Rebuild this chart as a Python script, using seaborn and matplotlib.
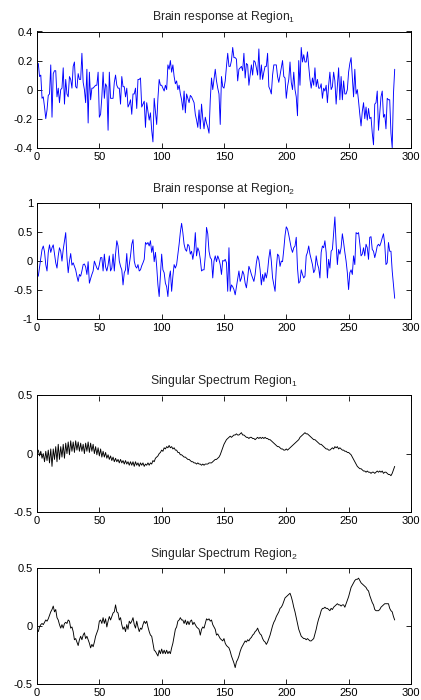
import matplotlib
matplotlib.use("Agg")

import numpy as np
import pandas as pd
import matplotlib.pyplot as plt
import seaborn as sns
from matplotlib.ticker import FuncFormatter

sns.set_theme(style="ticks")
plt.rcParams["font.family"] = ["Liberation Sans", "DejaVu Sans"]
plt.rcParams["mathtext.default"] = "regular"
plt.rcParams["axes.unicode_minus"] = False

# brain response, region 1
region1 = [
    0.18, 0.09, 0.10, -0.06, -0.05, -0.12, -0.20, -0.14, -0.04, -0.03,
    0.17, -0.19, 0.11, 0.13, 0.13, -0.05, 0.01, -0.09, 0.00, 0.01,
    0.15, -0.10, 0.07, -0.03, -0.05, 0.09, 0.07, 0.01, 0.16, 0.19,
    0.02, 0.01, 0.11, 0.07, 0.07, 0.25, 0.05, 0.00, -0.09, 0.14,
    -0.23, 0.12, -0.07, 0.01, 0.01, 0.02, 0.03, 0.03, 0.12, -0.19,
    -0.17, -0.05, 0.12, -0.06, 0.04, 0.02, -0.28, 0.12, -0.06, -0.06,
    -0.06, 0.05, 0.10, 0.03, 0.01, 0.01, -0.10, 0.09, 0.02, 0.02,
    -0.05, 0.01, -0.12, -0.10, -0.07, -0.17, -0.03, -0.03, 0.01, -0.13,
    0.07, 0.07, 0.08, -0.12, -0.10, -0.08, -0.26, -0.09, -0.15, -0.21,
    -0.16, -0.28, -0.36, -0.06, -0.15, -0.24, -0.06, 0.07, 0.03, 0.03,
    0.01, -0.01, 0.03, 0.00, 0.17, 0.14, 0.20, 0.12, 0.17, 0.09,
    0.04, 0.06, 0.00, 0.03, -0.03, -0.07, -0.14, -0.01, -0.16, -0.03,
    -0.06, -0.09, -0.04, -0.05, -0.07, -0.09, -0.17, -0.21, -0.26, -0.14,
    -0.27, -0.10, -0.20, -0.27, -0.19, -0.23, -0.26, -0.30, -0.07, 0.08,
    0.00, 0.07, 0.14, 0.06, 0.01, -0.03, -0.24, 0.09, 0.02, 0.01,
    0.06, 0.16, 0.25, 0.16, 0.16, 0.20, 0.29, 0.22, 0.22, 0.21,
    0.06, 0.14, 0.15, 0.16, 0.13, 0.25, 0.08, 0.18, 0.17, 0.03,
    0.10, 0.17, 0.10, 0.20, 0.19, 0.15, 0.10, 0.28, 0.07, 0.17,
    0.07, 0.12, 0.16, 0.16, 0.25, 0.02, 0.00, -0.03, 0.10, 0.17,
    0.17, 0.17, 0.09, 0.05, 0.10, 0.15, 0.20, 0.09, 0.08, -0.06,
    0.02, 0.07, 0.19, 0.05, 0.00, 0.12, 0.00, -0.05, -0.18, 0.20,
    0.03, 0.29, 0.19, 0.24, 0.19, 0.19, 0.26, 0.16, 0.07, 0.01,
    0.08, 0.03, 0.15, 0.02, 0.07, 0.01, 0.01, 0.04, -0.06, 0.01,
    -0.01, 0.03, -0.09, 0.03, 0.12, 0.00, 0.02, 0.12, 0.06, -0.10,
    0.02, 0.15, -0.07, 0.09, -0.07, 0.06, -0.03, -0.03, 0.00, 0.12,
    0.18, 0.22, 0.09, -0.05, 0.14, -0.03, 0.00, -0.08, -0.17, -0.25,
    -0.15, -0.09, -0.20, -0.12, -0.21, -0.13, -0.20, -0.19, -0.30, -0.38,
    -0.10, -0.09, -0.01, -0.28, -0.16, -0.05, -0.01, -0.19, -0.17, -0.27,
    -0.06, -0.07, -0.07, -0.30, -0.40, -0.03, 0.14,
]

# brain response, region 2
region2 = [
    -0.26, -0.10, 0.05, 0.20, 0.26, 0.16, -0.06, -0.17, 0.15, 0.28,
    0.15, 0.23, 0.28, 0.12, -0.03, -0.12, 0.09, 0.23, 0.17, 0.00,
    0.20, 0.35, 0.49, 0.06, -0.20, 0.00, 0.13, -0.07, -0.03, -0.09,
    -0.15, -0.26, -0.35, -0.23, -0.26, -0.17, -0.06, -0.05, -0.10, -0.23,
    -0.01, -0.38, -0.30, -0.23, -0.17, 0.00, -0.06, -0.12, -0.15, -0.06,
    0.06, 0.06, -0.17, 0.12, -0.10, -0.17, -0.07, 0.09, -0.17, -0.12,
    0.12, -0.17, 0.12, 0.35, 0.26, 0.00, -0.09, -0.15, -0.41, -0.20,
    -0.15, 0.13, -0.23, -0.06, 0.09, 0.29, 0.37, 0.00, -0.09, -0.12,
    -0.06, -0.17, -0.15, -0.08, -0.03, 0.03, 0.32, 0.29, 0.32, 0.26,
    0.35, 0.15, 0.26, -0.01, 0.15, -0.09, -0.41, -0.61, -0.26, 0.12,
    -0.15, -0.20, -0.38, -0.44, -0.61, -0.29, -0.17, -0.52, -0.26, -0.06,
    -0.12, -0.06, 0.12, 0.29, 0.50, 0.65, 0.49, 0.29, 0.20, 0.17,
    0.29, 0.26, 0.12, 0.17, 0.03, 0.17, 0.49, 0.09, 0.23, 0.17,
    0.03, -0.17, -0.15, -0.15, 0.09, 0.58, 0.47, 0.17, 0.06, 0.03,
    -0.29, 0.00, 0.09, -0.01, 0.09, 0.03, -0.06, -0.23, 0.01, 0.00,
    0.03, -0.03, -0.52, 0.23, -0.52, -0.41, -0.44, -0.49, -0.58, -0.44,
    -0.30, -0.17, -0.35, -0.29, -0.17, -0.23, -0.38, -0.46, -0.29, -0.09,
    -0.15, -0.23, -0.29, -0.35, -0.23, -0.03, 0.09, 0.02, -0.15, -0.41,
    -0.23, -0.35, -0.20, -0.29, -0.17, 0.05, 0.20, 0.00, -0.29, -0.41,
    -0.52, -0.12, 0.12, 0.09, -0.09, 0.00, -0.01, 0.20, 0.44, 0.59,
    0.55, 0.45, 0.33, 0.22, 0.15, 0.23, 0.26, 0.41, -0.12, -0.38,
    -0.35, -0.15, -0.23, -0.29, -0.26, 0.09, 0.15, 0.26, 0.12, 0.03,
    -0.06, -0.20, -0.15, 0.09, -0.05, -0.12, -0.29, 0.15, 0.26, 0.23,
    0.35, 0.15, -0.29, 0.03, -0.12, 0.17, 0.20, 0.49, 0.76, 0.29,
    -0.06, 0.20, 0.12, 0.23, 0.47, 0.32, 0.15, 0.00, -0.20, -0.49,
    -0.20, -0.15, -0.23, 0.09, -0.06, 0.49, 0.47, 0.49, 0.30, 0.09,
    0.12, 0.23, 0.09, 0.29, 0.23, 0.03, 0.41, 0.42, 0.20, 0.17,
    0.06, 0.15, 0.26, 0.29, 0.26, 0.32, 0.40, 0.47, 0.29, -0.06,
    -0.03, 0.32, 0.17, 0.17, -0.17, -0.40, -0.64,
]

# singular spectrum reconstruction, region 1
ssa1 = [
    0.03, -0.02, 0.02, -0.04, 0.00, -0.07, 0.02, -0.06, 0.03, -0.08,
    0.04, -0.11, 0.04, -0.05, 0.06, -0.07, 0.08, -0.05, 0.06, -0.03,
    0.08, -0.04, 0.09, 0.00, 0.10, -0.01, 0.11, 0.02, 0.10, 0.01,
    0.11, 0.03, 0.10, 0.02, 0.09, 0.02, 0.08, 0.00, 0.09, 0.02,
    0.10, 0.01, 0.09, 0.02, 0.08, 0.00, 0.06, -0.01, 0.05, -0.02,
    0.04, -0.03, 0.02, -0.03, 0.01, -0.04, -0.01, -0.05, -0.02, -0.06,
    -0.03, -0.07, -0.04, -0.07, -0.05, -0.08, -0.05, -0.08, -0.06, -0.09,
    -0.06, -0.09, -0.07, -0.10, -0.07, -0.10, -0.07, -0.11, -0.07, -0.10,
    -0.08, -0.11, -0.08, -0.10, -0.08, -0.11, -0.09, -0.10, -0.08, -0.10,
    -0.08, -0.09, -0.06, -0.07, -0.04, -0.03, -0.02, 0.00, 0.01, 0.03,
    0.02, 0.05, 0.04, 0.06, 0.05, 0.07, 0.05, 0.06, 0.04, 0.05,
    0.03, 0.03, 0.01, 0.01, -0.01, -0.01, -0.02, -0.03, -0.03, -0.04,
    -0.05, -0.05, -0.06, -0.07, -0.07, -0.08, -0.08, -0.09, -0.08, -0.09,
    -0.09, -0.10, -0.09, -0.10, -0.09, -0.09, -0.09, -0.08, -0.08, -0.08,
    -0.07, -0.06, -0.05, -0.05, -0.04, -0.03, -0.01, 0.02, 0.05, 0.08,
    0.10, 0.12, 0.13, 0.14, 0.15, 0.14, 0.15, 0.16, 0.16, 0.17,
    0.16, 0.16, 0.17, 0.18, 0.16, 0.16, 0.15, 0.14, 0.14, 0.13,
    0.14, 0.14, 0.13, 0.13, 0.12, 0.13, 0.14, 0.13, 0.14, 0.13,
    0.14, 0.13, 0.14, 0.13, 0.13, 0.12, 0.12, 0.11, 0.10, 0.09,
    0.08, 0.07, 0.06, 0.06, 0.05, 0.04, 0.04, 0.03, 0.03, 0.04,
    0.03, 0.04, 0.05, 0.06, 0.07, 0.08, 0.09, 0.10, 0.11, 0.12,
    0.14, 0.15, 0.16, 0.17, 0.18, 0.17, 0.17, 0.16, 0.15, 0.14,
    0.13, 0.12, 0.12, 0.11, 0.10, 0.09, 0.08, 0.08, 0.07, 0.06,
    0.05, 0.04, 0.04, 0.03, 0.03, 0.04, 0.05, 0.04, 0.06, 0.05,
    0.06, 0.04, 0.05, 0.04, 0.03, 0.03, 0.02, 0.02, 0.01, 0.01,
    0.00, -0.01, -0.03, -0.05, -0.07, -0.09, -0.11, -0.12, -0.13, -0.13,
    -0.14, -0.15, -0.15, -0.16, -0.15, -0.16, -0.16, -0.17, -0.16, -0.16,
    -0.17, -0.16, -0.15, -0.16, -0.15, -0.16, -0.15, -0.17, -0.16, -0.16,
    -0.17, -0.18, -0.18, -0.19, -0.17, -0.14, -0.11,
]

# singular spectrum reconstruction, region 2
ssa2 = [
    -0.05, -0.01, 0.01, 0.02, 0.01, 0.03, 0.05, 0.04, 0.06, 0.09,
    0.12, 0.14, 0.17, 0.12, 0.14, 0.07, 0.05, 0.01, -0.02, 0.01,
    -0.02, 0.02, 0.03, 0.02, 0.05, 0.04, -0.02, -0.01, -0.05, -0.12,
    -0.11, -0.14, -0.17, -0.12, -0.09, -0.12, -0.08, -0.06, -0.11, -0.09,
    -0.12, -0.15, -0.19, -0.16, -0.18, -0.14, -0.09, -0.06, -0.03, 0.04,
    0.05, 0.02, 0.07, 0.02, 0.06, -0.01, 0.04, 0.08, 0.05, 0.08,
    0.11, 0.12, 0.18, 0.12, 0.11, 0.05, 0.07, 0.01, -0.03, -0.01,
    -0.05, 0.01, -0.03, 0.04, 0.02, 0.04, 0.07, 0.01, -0.02, 0.04,
    -0.01, -0.05, -0.02, -0.03, 0.01, 0.04, 0.02, 0.04, -0.01, -0.05,
    -0.08, -0.09, -0.15, -0.21, -0.22, -0.24, -0.26, -0.21, -0.24, -0.20,
    -0.24, -0.21, -0.24, -0.21, -0.24, -0.22, -0.24, -0.19, -0.15, -0.09,
    -0.03, -0.01, 0.04, 0.05, 0.07, 0.05, 0.05, 0.02, 0.05, 0.01,
    0.04, 0.01, 0.04, 0.05, 0.01, 0.03, 0.01, -0.01, -0.02, -0.03,
    -0.08, -0.03, -0.01, -0.02, 0.02, 0.06, 0.05, 0.06, 0.04, 0.05,
    0.01, -0.01, -0.03, -0.08, -0.07, -0.09, -0.11, -0.12, -0.13, -0.11,
    -0.15, -0.17, -0.18, -0.19, -0.22, -0.26, -0.29, -0.32, -0.36, -0.31,
    -0.29, -0.26, -0.22, -0.19, -0.17, -0.15, -0.13, -0.14, -0.12, -0.13,
    -0.11, -0.10, -0.08, -0.07, -0.05, -0.04, -0.02, -0.05, -0.07, -0.08,
    -0.11, -0.13, -0.14, -0.16, -0.14, -0.11, -0.08, -0.04, 0.00, 0.03,
    0.05, 0.08, 0.10, 0.12, 0.15, 0.16, 0.18, 0.21, 0.24, 0.25,
    0.26, 0.27, 0.28, 0.25, 0.21, 0.16, 0.12, 0.07, 0.02, -0.03,
    -0.06, -0.09, -0.10, -0.11, -0.11, -0.12, -0.11, -0.12, -0.13, -0.13,
    -0.12, -0.11, -0.07, -0.03, 0.02, 0.06, 0.09, 0.13, 0.15, 0.15,
    0.16, 0.15, 0.15, 0.14, 0.13, 0.15, 0.14, 0.16, 0.17, 0.18,
    0.19, 0.18, 0.18, 0.17, 0.18, 0.18, 0.16, 0.19, 0.22, 0.25,
    0.29, 0.33, 0.35, 0.37, 0.39, 0.40, 0.40, 0.41, 0.39, 0.37,
    0.36, 0.35, 0.34, 0.33, 0.31, 0.30, 0.26, 0.23, 0.20, 0.18,
    0.14, 0.13, 0.13, 0.13, 0.14, 0.16, 0.17, 0.18, 0.19, 0.19,
    0.19, 0.19, 0.15, 0.13, 0.12, 0.08, 0.05,
]

titles = [
    "Brain response at Region$_1$",
    "Brain response at Region$_2$",
    "Singular Spectrum Region$_1$",
    "Singular Spectrum Region$_2$",
]
series = [region1, region2, ssa1, ssa2]
colors = ["#0000ff", "#0000ff", "black", "black"]
ylims = [(-0.4, 0.4), (-1, 1), (-0.5, 0.5), (-0.5, 0.5)]
yticks = [[-0.4, -0.2, 0, 0.2, 0.4], [-1, -0.5, 0, 0.5, 1], [-0.5, 0, 0.5], [-0.5, 0, 0.5]]

fig = plt.figure(figsize=(4.21, 7.00), dpi=100)
bottoms = [0.789, 0.544, 0.269, 0.023]
fmt = FuncFormatter(lambda v, p: "%g" % v)

for i in range(4):
    ax = fig.add_axes([0.088, bottoms[i], 0.888, 0.166])
    df = pd.DataFrame({"t": np.arange(1, len(series[i]) + 1), "v": series[i]})
    sns.lineplot(data=df, x="t", y="v", ax=ax, color=colors[i], linewidth=0.65)
    ax.set_xlim(0, 300)
    ax.set_ylim(*ylims[i])
    ax.set_xticks([0, 50, 100, 150, 200, 250, 300])
    ax.set_yticks(yticks[i])
    ax.xaxis.set_major_formatter(fmt)
    ax.yaxis.set_major_formatter(fmt)
    ax.set_xlabel("")
    ax.set_ylabel("")
    ax.tick_params(direction="in", top=True, right=True, length=3.5, width=0.6,
                   labelsize=8, pad=3, colors="black")
    for s in ax.spines.values():
        s.set_linewidth(0.7)
        s.set_color("black")
    ax.set_title(titles[i], fontsize=8.7, pad=8)

fig.savefig("out.png", dpi=100)
